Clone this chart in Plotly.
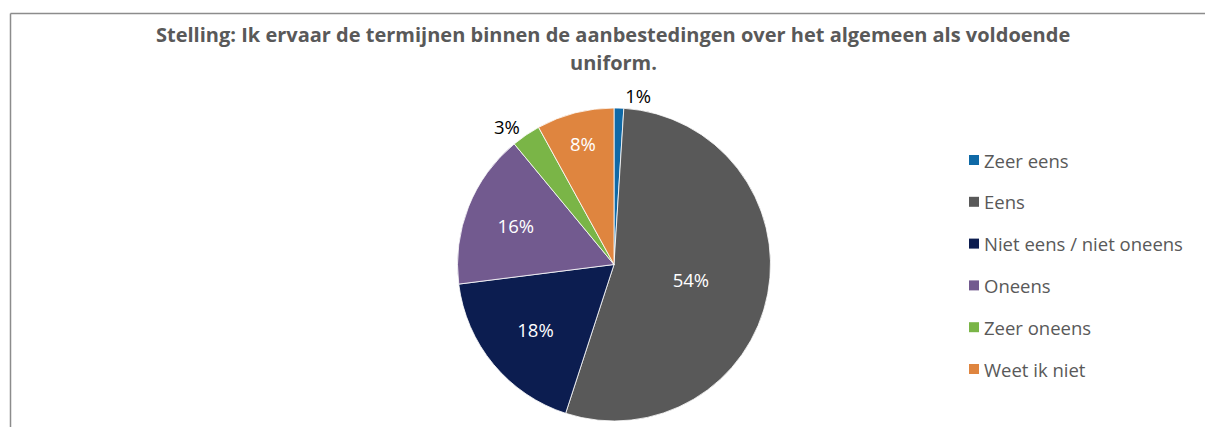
import plotly.graph_objects as go

# Survey answers and their shares (percent)
labels = ["Zeer eens", "Eens", "Niet eens / niet oneens", "Oneens", "Zeer oneens", "Weet ik niet"]
values = [1, 54, 18, 16, 3, 8]
colors = ["#0f69a6", "#595959", "#0c1d50", "#725a8f", "#7ab547", "#df853f"]
text_positions = ["outside", "inside", "inside", "inside", "outside", "inside"]

title_lines = ["Stelling: Ik ervaar de termijnen binnen de aanbestedingen over het algemeen als voldoende",
               "uniform."]

W, H = 1205, 427
FONT = "Open Sans"
GREY = "#595959"

fig = go.Figure()
fig.add_trace(go.Pie(
    labels=labels,
    values=values,
    sort=False,
    direction="clockwise",
    rotation=0,
    marker=dict(colors=colors, line=dict(color="#ffffff", width=0.8)),
    texttemplate="%{percent:.0%}",
    textposition=text_positions,
    insidetextorientation="horizontal",
    insidetextfont=dict(color="#ffffff", size=18.5, family=FONT),
    outsidetextfont=dict(color="#000000", size=18.5, family=FONT),
    showlegend=False,
    hoverinfo="label+percent",
    domain=dict(x=[457.5 / W, 770.5 / W], y=[(H - 421) / H, (H - 108) / H]),
))

# Chart frame (left and top edges visible)
fig.add_shape(type="line", xref="paper", yref="paper",
              x0=10.5 / W, x1=1.0, y0=(H - 13.5) / H, y1=(H - 13.5) / H,
              line=dict(color="#8c8c8c", width=1.5))
fig.add_shape(type="line", xref="paper", yref="paper",
              x0=10.5 / W, x1=10.5 / W, y0=0, y1=(H - 13.5) / H,
              line=dict(color="#8c8c8c", width=1.5))

# Title, one annotation per line
for i, line in enumerate(title_lines):
    fig.add_annotation(xref="paper", yref="paper", x=613 / W, y=(H - 35 - 27 * i) / H,
                       xanchor="center", yanchor="middle", showarrow=False,
                       text="<b>" + line + "</b>",
                       font=dict(family=FONT, size=20, color=GREY))

# Legend: coloured squares with labels
leg_x, leg_y0, leg_dy, sq = 969, 160, 41.8, 10
for i, (lab, col) in enumerate(zip(labels, colors)):
    yc = leg_y0 + i * leg_dy
    fig.add_shape(type="rect", xref="paper", yref="paper",
                  x0=leg_x / W, x1=(leg_x + sq) / W,
                  y0=(H - yc - sq / 2) / H, y1=(H - yc + sq / 2) / H,
                  fillcolor=col, line=dict(width=0))
    fig.add_annotation(xref="paper", yref="paper", x=(leg_x + sq + 3) / W, y=(H - yc) / H,
                       xanchor="left", yanchor="middle", showarrow=False,
                       text=lab, font=dict(family=FONT, size=18.5, color=GREY))

fig.update_layout(
    width=W, height=H,
    margin=dict(l=0, r=0, t=0, b=0),
    paper_bgcolor="#ffffff",
    plot_bgcolor="#ffffff",
)

fig.write_html("out.html")
